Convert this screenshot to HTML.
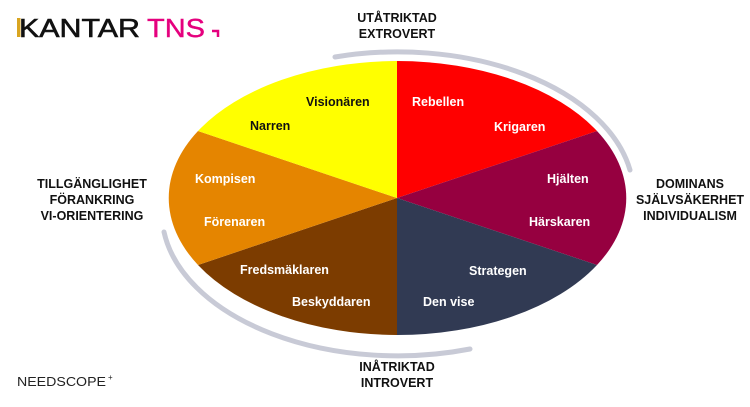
<!DOCTYPE html>
<html><head><meta charset="utf-8"><style>
body{margin:0;width:750px;height:402px;background:#fff;overflow:hidden;font-family:"Liberation Sans",sans-serif}
</style></head><body>
<svg width="750" height="402" viewBox="0 0 750 402" xmlns="http://www.w3.org/2000/svg" font-family="Liberation Sans, sans-serif">
<text x="19" y="37" font-size="26" fill="#111" textLength="121" lengthAdjust="spacingAndGlyphs" stroke="#111" stroke-width="0.6">KANTAR</text>
<rect x="17" y="18" width="3.5" height="19" fill="#d9a520"/>
<text x="147" y="37" font-size="26" fill="#e5007e" textLength="58" lengthAdjust="spacingAndGlyphs" stroke="#e5007e" stroke-width="0.4">TNS</text>
<path d="M212 31 h6 v6" stroke="#e5007e" stroke-width="2.5" fill="none"/>
<!-- swooshes -->
<path d="M335 57 A236 143 0 0 1 630 170" stroke="#c8cad6" stroke-width="5" fill="none" stroke-linecap="round"/>
<path d="M164 232 A236 143 0 0 0 470 349" stroke="#c8cad6" stroke-width="5" fill="none" stroke-linecap="round"/>
<g>
<path d="M397 198 L397 61 A229 137 0 0 1 597 131 Z" fill="#ff0000"/>
<path d="M397 198 L597 131 A229 137 0 0 1 597 265 Z" fill="#960040"/>
<path d="M397 198 L597 265 A229 137 0 0 1 397 335 Z" fill="#313a53"/>
<path d="M397 198 L397 335 A229 137 0 0 1 198 265 Z" fill="#7c3c00"/>
<path d="M397 198 L198 265 A229 137 0 0 1 198 131 Z" fill="#e58500"/>
<path d="M397 198 L198 131 A229 137 0 0 1 397 61 Z" fill="#ffff00"/>
</g>
<g font-size="12.5" font-weight="bold">
<text x="306" y="106" fill="#111">Visionären</text>
<text x="250" y="130" fill="#111">Narren</text>
<text x="412" y="106" fill="#fff">Rebellen</text>
<text x="494" y="131" fill="#fff">Krigaren</text>
<text x="547" y="183" fill="#fff">Hjälten</text>
<text x="529" y="226" fill="#fff">Härskaren</text>
<text x="195" y="183" fill="#fff">Kompisen</text>
<text x="204" y="226" fill="#fff">Förenaren</text>
<text x="240" y="274" fill="#fff">Fredsmäklaren</text>
<text x="292" y="306" fill="#fff">Beskyddaren</text>
<text x="469" y="275" fill="#fff">Strategen</text>
<text x="423" y="306" fill="#fff">Den vise</text>
</g>
<g font-size="12.5" font-weight="bold" fill="#111" text-anchor="middle">
<text x="397" y="22">UTÅTRIKTAD</text>
<text x="397" y="38">EXTROVERT</text>
<text x="92" y="188">TILLGÄNGLIGHET</text>
<text x="92" y="204">FÖRANKRING</text>
<text x="92" y="220">VI-ORIENTERING</text>
<text x="690" y="188">DOMINANS</text>
<text x="690" y="204">SJÄLVSÄKERHET</text>
<text x="690" y="220">INDIVIDUALISM</text>
<text x="397" y="371">INÅTRIKTAD</text>
<text x="397" y="387">INTROVERT</text>
</g>
<text x="17" y="386" font-size="13" fill="#222" textLength="89" lengthAdjust="spacingAndGlyphs">NEEDSCOPE</text>
<text x="108" y="380" font-size="8" fill="#222">+</text>
</svg>
</body></html>
